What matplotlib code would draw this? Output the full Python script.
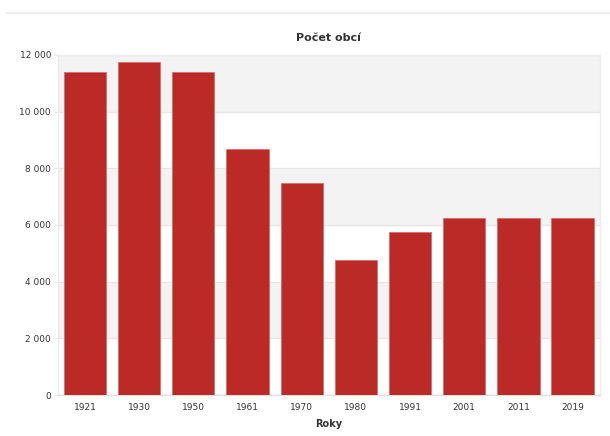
import numpy as np
import matplotlib.pyplot as plt
from matplotlib.ticker import FuncFormatter
from matplotlib.lines import Line2D

years = ["1921", "1930", "1950", "1961", "1970", "1980", "1991", "2001", "2011", "2019"]
municipalities = [11400, 11740, 11400, 8690, 7490, 4760, 5740, 6240, 6240, 6240]
y_ticks = [0, 2000, 4000, 6000, 8000, 10000, 12000]

bar_color = "#bb2a26"
grid_color = "#e6e6e6"
band_color = "#f3f3f3"

fig = plt.figure(figsize=(6.1, 4.36), dpi=100)
ax = fig.add_axes([0.095, 0.094, 0.888, 0.780])

# alternating horizontal bands
for i in range(len(y_ticks) - 1):
    if i % 2 == 1:
        ax.axhspan(y_ticks[i], y_ticks[i + 1], color=band_color, zorder=0, lw=0)

x = np.arange(len(years))
ax.bar(x, municipalities, width=0.78, color=bar_color, edgecolor="#d46a66",
       linewidth=0.5, zorder=3)

ax.set_xlim(-0.5, len(years) - 0.5)
ax.set_ylim(0, 12000)
ax.set_yticks(y_ticks)
ax.yaxis.set_major_formatter(FuncFormatter(lambda v, p: f"{int(v):,}".replace(",", " ")))
ax.set_xticks(x)
ax.set_xticklabels(years)

ax.grid(axis="y", color=grid_color, linewidth=1, zorder=1)
ax.set_axisbelow(True)
for s in ax.spines.values():
    s.set_color("#ececec")
    s.set_linewidth(1)
ax.spines["bottom"].set_color("#e0e0e0")

ax.tick_params(axis="y", length=3, color=grid_color, labelsize=6.5, labelcolor="#333333", pad=2)
ax.tick_params(axis="x", length=0, labelsize=6.5, labelcolor="#333333", pad=6)

ax.set_title("Počet obcí", fontsize=8, fontweight="bold", color="#333333", pad=10)
ax.set_xlabel("Roky", fontsize=7, fontweight="bold", color="#333333", labelpad=5)

# faint separator line at the top of the figure
fig.add_artist(Line2D([0.012, 1.0], [0.970, 0.970], color="#eeeeee", linewidth=1.5,
                      transform=fig.transFigure))

fig.savefig("out.png", dpi=100)
